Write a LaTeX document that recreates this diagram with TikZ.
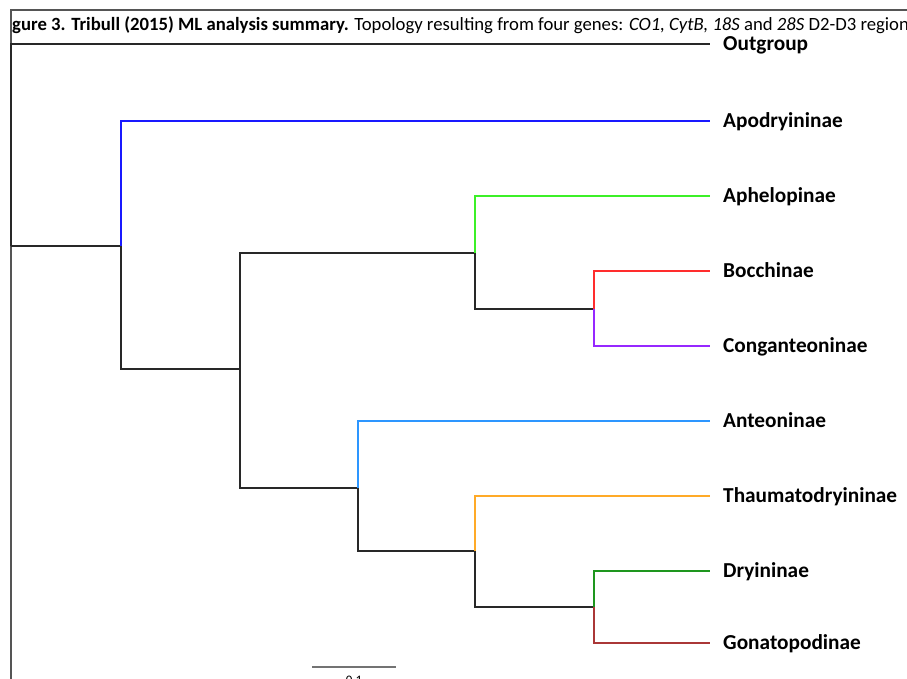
\documentclass[tikz,border=0pt]{standalone}
\usepackage{fontspec}
\setmainfont{Carlito}
\usetikzlibrary{positioning}

\definecolor{apodcol}{RGB}{25,25,255}
\definecolor{aphecol}{RGB}{60,240,40}
\definecolor{bocccol}{RGB}{255,45,45}
\definecolor{congcol}{RGB}{150,40,255}
\definecolor{antecol}{RGB}{45,150,255}
\definecolor{thaucol}{RGB}{255,170,40}
\definecolor{dryicol}{RGB}{30,150,30}
\definecolor{gonacol}{RGB}{170,55,55}
\definecolor{stemcol}{RGB}{40,40,40}
\definecolor{framecol}{RGB}{85,85,85}

\tikzset{
  branch/.style={line width=2.4pt, color=stemcol},
  framerule/.style={line width=1.5pt, color=framecol},
  scalebar/.style={line width=2pt, color=black!55},
  taxon/.style={font=\fontsize{21.3}{25}\selectfont\bfseries, inner sep=0pt,
    text height=13pt, text depth=0pt},
  caption/.style={font=\fontsize{18.7}{22}\selectfont, inner sep=0pt, anchor=base west},
}

\begin{document}
\begin{tikzpicture}[x=1pt, y=-1pt]
  %%%%% START %%%%%
  \useasboundingbox (0,0) rectangle (907,679);
  \clip (0,0) rectangle (907,679);

  % frame and caption
  \draw[framerule] (10,10) -- (907,10);
  \draw[framerule] (11,10) -- (11,679);
  \begin{scope}
    \clip (12,11) rectangle (907,40);
    \node[caption] (cap) at (12,31) {\llap{\textbf{Fi}}\textbf{gure 3. Tribull (2015) ML analysis summary.} Topology resulting from four genes: \textit{CO1, CytB, 18S} and \textit{28S} D2-D3 region};
  \end{scope}

  % internal nodes
  \coordinate (root) at (11,246);
  \coordinate (nA) at (121,246);
  \coordinate (nB) at (240,369);
  \coordinate (nC) at (475,253);
  \coordinate (nD) at (594,309);
  \coordinate (nE) at (358,488);
  \coordinate (nF) at (475,551);
  \coordinate (nG) at (594,607);

  % tips
  \coordinate (tOut) at (710,44);
  \coordinate (tApod) at (710,121);
  \coordinate (tAphe) at (710,196);
  \coordinate (tBocc) at (710,271);
  \coordinate (tCong) at (710,346);
  \coordinate (tAnte) at (710,421);
  \coordinate (tThau) at (710,496);
  \coordinate (tDryi) at (710,571);
  \coordinate (tGona) at (710,643);

  \foreach \t/\name in {tOut/Outgroup, tApod/Apodryininae, tAphe/Aphelopinae,
      tBocc/Bocchinae, tCong/Conganteoninae, tAnte/Anteoninae,
      tThau/Thaumatodryininae, tDryi/Dryininae, tGona/Gonatopodinae}
    \node[taxon, right=13pt of \t] (l\t) {\name};

  % branches
  \draw[branch] (root) |- (tOut);
  \draw[branch] (root) -- (nA);
  \draw[branch, apodcol] (nA) |- (tApod);
  \draw[branch] (nA) |- (nB);
  \draw[branch] (nB) |- (nC);
  \draw[branch] (nB) |- (nE);
  \draw[branch, aphecol] (nC) |- (tAphe);
  \draw[branch] (nC) |- (nD);
  \draw[branch, bocccol] (nD) |- (tBocc);
  \draw[branch, congcol] (nD) |- (tCong);
  \draw[branch, antecol] (nE) |- (tAnte);
  \draw[branch] (nE) |- (nF);
  \draw[branch, thaucol] (nF) |- (tThau);
  \draw[branch] (nF) |- (nG);
  \draw[branch, dryicol] (nG) |- (tDryi);
  \draw[branch, gonacol] (nG) |- (tGona);

  % scale bar
  \coordinate (sbL) at (312,667);
  \coordinate (sbR) at (396,667);
  \draw[scalebar] (sbL) -- (sbR);
  \node[font=\fontsize{13}{15}\selectfont, inner sep=0pt, anchor=north] (sblab) at (354,676) {0.1};

  %%%%% END %%%%%
\end{tikzpicture}
\end{document}
